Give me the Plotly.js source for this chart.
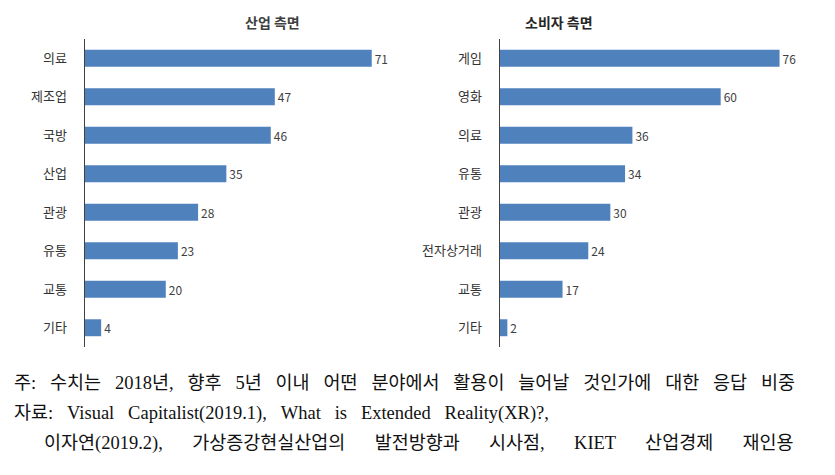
<!DOCTYPE html>
<html><head><meta charset="utf-8">
<script src="https://cdn.plot.ly/plotly-3.0.1.min.js"></script>
<style>html,body{margin:0;padding:0;background:#fff}#chart{width:835px;height:475px}</style>
</head><body><div id="chart"></div>
<script>
const industryCats = ['의료','제조업','국방','산업','관광','유통','교통','기타'];
const industryVals = [71,47,46,35,28,23,20,4];
const consumerCats = ['게임','영화','의료','유통','관광','전자상거래','교통','기타'];
const consumerVals = [76,60,36,34,30,24,17,2];
const titles = ['산업 측면','소비자 측면'];
const notes = [
  '주: 수치는 2018년, 향후 5년 이내 어떤 분야에서 활용이 늘어날 것인가에 대한 응답 비중',
  '자료: Visual Capitalist(2019.1), What is Extended Reality(XR)?,',
  '이자연(2019.2), 가상증강현실산업의 발전방향과 시사점, KIET 산업경제 재인용'
];

const barColor = '#4F81BD';
const kfont = 'Noto Sans CJK KR, sans-serif';
const sfont = 'Liberation Serif, Noto Sans CJK KR, serif';

function bar(cats, vals, xa, ya){
  return {type:'bar', orientation:'h', x:vals, y:cats, xaxis:xa, yaxis:ya,
    marker:{color:barColor}, width:0.44,
    text:vals.map(String), textposition:'outside', cliponaxis:false,
    textfont:{family:kfont, size:12, color:'#404040'}, hoverinfo:'skip'};
}
const yTop = 1-39/475, yBot = 1-347/475;
function yax(){
  return {domain:[yBot,yTop], autorange:'reversed', type:'category',
    showline:true, linecolor:'#404040', linewidth:1.5, ticks:'', showgrid:false,
    zeroline:false, ticklabelstandoff:14,
    tickfont:{family:kfont, size:13, color:'#333333'}};
}
function xax(dom, rng, anchor){
  return {domain:dom, range:rng, showticklabels:false, showgrid:false, zeroline:false,
    showline:false, ticks:'', anchor:anchor};
}
// widen word gaps like the justified source text
function note(i, x, y, gap){
  return {text:notes[i].split(' ').join(' '+gap), x:x/835, y:1-y/475, xref:'paper', yref:'paper',
    xanchor:'left', yanchor:'middle', align:'left',
    showarrow:false, font:{family:sfont, size:18.5, color:'#111'}};
}
const layout = {
  width:835, height:475, margin:{l:0,r:0,t:0,b:0},
  paper_bgcolor:'#fff', plot_bgcolor:'#fff', showlegend:false,
  xaxis: xax([85/835, 400/835], [0,78], 'y'),
  yaxis: Object.assign(yax(), {anchor:'x'}),
  xaxis2: xax([500/835, 820/835], [0,87], 'y2'),
  yaxis2: Object.assign(yax(), {anchor:'x2'}),
  annotations:[
    {text:'<b>'+titles[0]+'</b>', x:243/835, y:1-22/475, xref:'paper', yref:'paper', yanchor:'middle', showarrow:false,
     font:{family:kfont, size:14, color:'#404040'}},
    {text:'<b>'+titles[1]+'</b>', x:595/835, y:1-22/475, xref:'paper', yref:'paper', yanchor:'middle', showarrow:false,
     font:{family:kfont, size:14, color:'#262626'}},
    note(0, 12, 383, '\u2002'),
    note(1, 12, 413, '\u2002'),
    note(2, 42, 443, '\u2003\u2004')
  ]
};
Plotly.newPlot('chart', [bar(industryCats, industryVals,'x','y'), bar(consumerCats, consumerVals,'x2','y2')], layout, {displayModeBar:false, staticPlot:true});
</script></body></html>
